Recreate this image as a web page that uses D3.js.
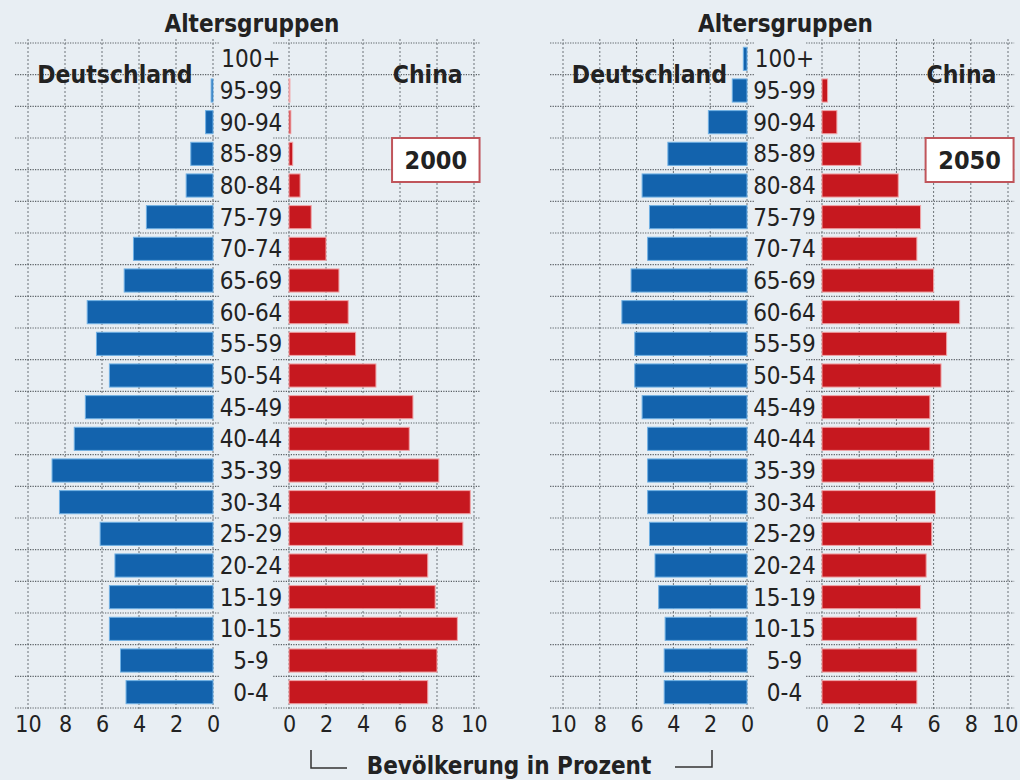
<!DOCTYPE html>
<html>
<head>
<meta charset="utf-8">
<script src="https://cdn.jsdelivr.net/npm/d3@7"></script>
<style>
  html, body { margin: 0; padding: 0; background: #e8eef3; }
  svg { display: block; }
  text { font-family: "DejaVu Sans Condensed", "DejaVu Sans", sans-serif; fill: #222; }
</style>
</head>
<body>
<svg id="chart" width="1020" height="780"></svg>
<script>
// ---- data ----
const ageGroups = ["100+","95-99","90-94","85-89","80-84","75-79","70-74","65-69","60-64","55-59","50-54","45-49","40-44","35-39","30-34","25-29","20-24","15-19","10-15","5-9","0-4"];
const deutschland2000 = [0, 0.1, 0.4, 1.2, 1.45, 3.6, 4.3, 4.8, 6.8, 6.3, 5.6, 6.9, 7.5, 8.7, 8.3, 6.1, 5.3, 5.6, 5.6, 5.0, 4.7];
const china2000       = [0, 0.05, 0.1, 0.2, 0.6, 1.2, 2.0, 2.7, 3.2, 3.6, 4.7, 6.7, 6.5, 8.1, 9.8, 9.4, 7.5, 7.9, 9.1, 8.0, 7.5];
const deutschland2050 = [0.2, 0.8, 2.1, 4.3, 5.7, 5.3, 5.4, 6.3, 6.8, 6.1, 6.1, 5.7, 5.4, 5.4, 5.4, 5.3, 5.0, 4.8, 4.45, 4.5, 4.5];
const china2050       = [0, 0.3, 0.8, 2.1, 4.1, 5.3, 5.1, 6.0, 7.4, 6.7, 6.4, 5.8, 5.8, 6.0, 6.1, 5.9, 5.6, 5.3, 5.1, 5.1, 5.1];
const ticksLeft = [10, 8, 6, 4, 2, 0];
const ticksRight = [0, 2, 4, 6, 8, 10];
const titleAge = "Altersgruppen";
const labelDE = "Deutschland";
const labelCN = "China";
const footer = "Bevölkerung in Prozent";

const svg = d3.select("#chart");
svg.append("rect").attr("width", 1020).attr("height", 780).attr("fill", "#e8eef3");

const y = d3.scaleBand().domain(ageGroups).range([43, 708]).paddingInner(0.27).paddingOuter(0.135);
const step = y.step();

const BLUE = "#1363ad", BLUE_EDGE = "#6fb0e4";
const RED = "#c6181f", RED_EDGE = "#f0a3a6";

function panel(deRange, cnRange, de, cn, year, lastPanel) {
  const xDE = d3.scaleLinear().domain([0, 10]).range(deRange);
  const xCN = d3.scaleLinear().domain([0, 10]).range(cnRange);
  const g = svg.append("g");
  const mid = (xDE(0) + xCN(0)) / 2;

  // vertical grid
  const vg = g.append("g");
  [[xDE, ticksLeft], [xCN, ticksRight]].forEach(([xs, tv]) => {
    vg.selectAll(null).data(tv).enter().append("line")
      .attr("x1", d => xs(d)).attr("x2", d => xs(d))
      .attr("y1", 39).attr("y2", 711)
      .attr("stroke", "#6d7378").attr("stroke-width", 1)
      .attr("stroke-dasharray", "2,2");
  });

  // horizontal grid (row boundaries)
  const bounds = d3.range(ageGroups.length + 1).map(i => 43 + i * step);
  const hg = g.append("g");
  [[xDE(10.7), xDE(-0.38)], [xCN(-0.85), xCN(10.33)]].forEach(([a, b]) => {
    hg.selectAll(null).data(bounds).enter().append("line")
      .attr("x1", a).attr("x2", b)
      .attr("y1", d => d).attr("y2", d => d)
      .attr("stroke", "#575d62").attr("stroke-width", 1.2)
      .attr("stroke-dasharray", "1.2,1.3");
  });

  // bars
  g.append("g").selectAll("rect").data(de).enter().append("rect")
    .attr("x", d => xDE(d)).attr("width", d => xDE(0) - xDE(d))
    .attr("y", (d, i) => y(ageGroups[i])).attr("height", y.bandwidth())
    .attr("fill", BLUE).attr("stroke", d => d > 0 ? BLUE_EDGE : "none").attr("stroke-width", 1);
  g.append("g").selectAll("rect").data(cn).enter().append("rect")
    .attr("x", xCN(0)).attr("width", d => xCN(d) - xCN(0))
    .attr("y", (d, i) => y(ageGroups[i])).attr("height", y.bandwidth())
    .attr("fill", RED).attr("stroke", d => d > 0 ? RED_EDGE : "none").attr("stroke-width", 1);

  // age labels
  g.append("g").selectAll("text").data(ageGroups).enter().append("text")
    .attr("x", mid).attr("y", d => y(d) + y.bandwidth() / 2)
    .attr("dy", "0.36em").attr("text-anchor", "middle")
    .style("font-size", "24px").attr("fill", "#2a2a2a").text(d => d);

  // axes
  const axL = d3.axisBottom(xDE).tickValues(ticksLeft).tickSize(0).tickPadding(0).tickFormat(d3.format("d"));
  const axR = d3.axisBottom(xCN).tickValues(ticksRight).tickSize(0).tickPadding(0).tickFormat(d3.format("d"));
  [axL, axR].forEach((ax, k) => {
    const a = g.append("g").attr("transform", "translate(0,715)").call(ax);
    a.select(".domain").remove();
    a.selectAll("text").attr("dy", "0.72em").style("font-size", "23px")
      .style("font-family", '"DejaVu Sans Condensed", sans-serif').attr("fill", "#2a2a2a");
    if (lastPanel && k === 1) {
      // keep the right-most "10" inside the picture
      a.selectAll(".tick").filter(d => d === 10).select("text")
        .attr("text-anchor", "end").attr("x", 1018 - xCN(10));
    }
  });

  // titles
  g.append("text").attr("x", mid + 1).attr("y", 32).attr("text-anchor", "middle")
    .style("font-size", "24px").style("font-weight", "bold").text(titleAge);
  g.append("text").attr("x", xDE(5.3)).attr("y", 83).attr("text-anchor", "middle")
    .style("font-size", "24.5px").style("font-weight", "bold").text(labelDE);
  g.append("text").attr("x", xCN(7.5)).attr("y", 83).attr("text-anchor", "middle")
    .style("font-size", "24.5px").style("font-weight", "bold").text(labelCN);

  // year box
  const bx0 = xCN(5.57), bx1 = xCN(10.3);
  g.append("rect").attr("x", bx0).attr("y", 138).attr("width", bx1 - bx0).attr("height", 44)
    .attr("fill", "#ffffff").attr("stroke", "#c0555b").attr("stroke-width", 2);
  g.append("text").attr("x", (bx0 + bx1) / 2).attr("y", 169).attr("text-anchor", "middle")
    .style("font-size", "25px").style("font-weight", "bold").text(year);
}

panel([213, 28], [289, 474], deutschland2000, china2000, "2000", false);
panel([747, 563], [822, 1008], deutschland2050, china2050, "2050", true);

// footer
svg.append("text").attr("x", 509).attr("y", 774).attr("text-anchor", "middle")
  .style("font-size", "24px").style("font-weight", "bold").text(footer);
svg.append("path").attr("d", "M311,750 V768 H347").attr("fill", "none").attr("stroke", "#333").attr("stroke-width", 1.5);
svg.append("path").attr("d", "M675,767 H712 V750").attr("fill", "none").attr("stroke", "#333").attr("stroke-width", 1.5);
</script>
</body>
</html>
